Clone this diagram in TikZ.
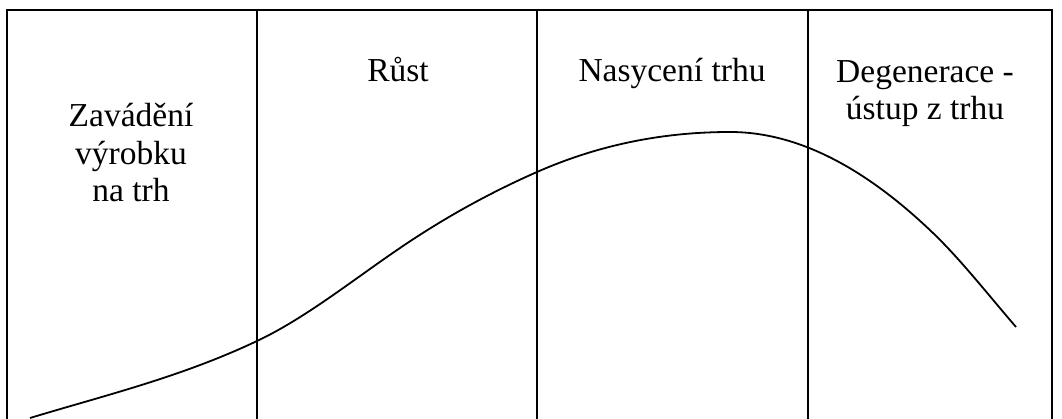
\documentclass[tikz,border=0pt]{standalone}
\usepackage{fontspec}
\setmainfont{Liberation Serif}
\begin{document}
\begin{tikzpicture}[x=1pt,y=-1pt,
  frame/.style={line width=2.2pt},
  divider/.style={line width=2.2pt},
  thindivider/.style={line width=1.5pt},
  curve/.style={line width=1.8pt},
  lbl/.style={font=\fontsize{33.5}{37.5}\selectfont, align=center, inner sep=0pt, anchor=base}]
\useasboundingbox (0,0) rectangle (1062,419);
% frame (open at bottom)
\draw[frame] (7,425) -- (7,10) -- (1052,10) -- (1052,425);
\draw[divider] (257,10) -- (257,425);
\draw[divider] (537,10) -- (537,425);
\draw[thindivider] (808,10) -- (808,425);
% life-cycle curve
\coordinate (c0) at (30,418);
\coordinate (c1) at (257,341);
\coordinate (c2) at (400,248);
\coordinate (c3) at (537,172);
\coordinate (c4) at (730,132);
\coordinate (c5) at (933,233);
\coordinate (c6) at (1016,327);
\draw[curve] (c0) .. controls (106,395) and (181,377) .. (c1)
  .. controls (304.7,318.6) and (352.3,280.4) .. (c2)
  .. controls (445.7,216.9) and (491.3,192.1) .. (c3)
  .. controls (601.3,143.7) and (665.7,132) .. (c4)
  .. controls (797.7,132) and (865.3,168) .. (c5)
  .. controls (960.7,259.6) and (988.3,294.9) .. (c6);
% labels
\node[lbl] (intro) at (131,202) {Zavádění\\výrobku\\na trh};
\node[lbl] (growth) at (398,82) {Růst};
\node[lbl] (sat) at (672,82) {Nasycení trhu};
\node[lbl] (decl) at (925,120) {Degenerace -\\ústup z trhu};
\end{tikzpicture}
\end{document}
